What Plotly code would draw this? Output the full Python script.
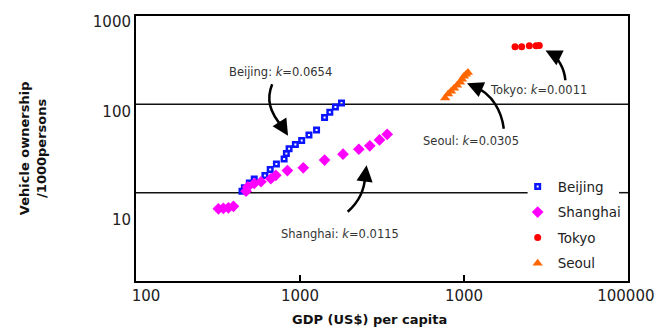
import plotly.graph_objects as go

# Data (GDP per capita in US$, vehicles per 1000 persons)
beijing_gdp = [443, 458, 491, 526, 611, 658, 718, 800, 826, 858, 937, 1024, 1134, 1262, 1412, 1520, 1644, 1791]
beijing_veh = [10.4, 11.4, 12.9, 14.3, 15.6, 18.3, 21.1, 24.0, 27.8, 31.4, 35.1, 38.9, 45.0, 51.2, 70.8, 81.5, 93.3, 103.5]

shanghai_gdp = [318, 341, 366, 393, 469, 480, 526, 578, 664, 712, 838, 1047, 1412, 1830, 2285, 2665, 3053, 3401]
shanghai_veh = [6.56, 6.65, 6.73, 7.0, 10.4, 11.6, 12.7, 13.3, 14.4, 15.7, 17.8, 19.1, 23.4, 27.3, 31.0, 33.9, 39.5, 45.7]

tokyo_gdp = [20470, 22480, 25020, 27500, 28770]
tokyo_veh = [450, 450, 461, 461, 463]

seoul_gdp = [7674, 8000, 8343, 8700, 9070, 9460, 9730, 10000, 10290, 10570]
seoul_veh = [117.8, 130.6, 141, 152, 164.5, 177.8, 192, 207.6, 218.8, 230]

x_tickvals = [115, 1000, 10000, 97000]
x_ticktext = ["100", "1000", "1000", "100000"]
y_tickvals = [4.94, 82, 867]
y_ticktext = ["10", "100", "1000"]

FONT = "DejaVu Sans"
OFF = 8                       # page body margin
W, H = 667 - 2 * OFF, 336 - 2 * OFF
# plot box in page pixels
PX0, PX1, PY0, PY1 = 136, 631, 13, 281
L, T = PX0 - OFF, PY0 - OFF
R, B = W - (PX1 - OFF), H - (PY1 - OFF)


def paper(px, py):
    """page pixel -> paper coords"""
    return (px - PX0) / (PX1 - PX0), (PY1 - py) / (PY1 - PY0)


fig = go.Figure()
fig.add_trace(go.Scatter(x=beijing_gdp, y=beijing_veh, name="Beijing", mode="markers", legendgroup="b",
                         marker=dict(symbol="square-open", size=4.5, color="#0a14ff", line=dict(width=2.5))))
fig.add_trace(go.Scatter(x=shanghai_gdp, y=shanghai_veh, name="Shanghai", mode="markers", legendgroup="s",
                         marker=dict(symbol="diamond", size=9, color="#ff00ff")))
fig.add_trace(go.Scatter(x=tokyo_gdp, y=tokyo_veh, name="Tokyo", mode="markers", legendgroup="t",
                         marker=dict(symbol="circle", size=7, color="#ff0000")))
fig.add_trace(go.Scatter(x=seoul_gdp, y=seoul_veh, name="Seoul", mode="markers", legendgroup="k",
                         marker=dict(symbol="triangle-up", size=9, color="#ff6600")))

# horizontal grid lines at 100 and 10 (the 10 line is broken behind the legend)
grid_segments = [(100, 0, 1), (10, 0, paper(530, 0)[0]), (10, paper(622, 0)[0], 1)]
for v, a, b in grid_segments:
    fig.add_shape(type="line", xref="paper", x0=a, x1=b, yref="y", y0=v, y1=v,
                  line=dict(color="#111", width=1.5), layer="below")

# curved arrows + labels (page pixels)
arrows = [
    # start, c1, c2, end, tip, label text, label pos
    ((273, 82), (267, 97), (270, 110), (284, 126), (289, 134), "Beijing: <i>k</i>=0.0654", (281, 70)),
    ((349, 211), (360, 201), (366, 190), (367, 172), (368, 164), "Shanghai: <i>k</i>=0.0115", (341, 233)),
    ((506, 127), (504, 110), (495, 92), (476, 84), (469, 81), "Seoul: <i>k</i>=0.0305", (473, 139)),
    ((568, 78), (567, 66), (561, 56), (554, 51), (548, 48), "Tokyo: <i>k</i>=0.0011", (541, 88)),
]
annotations = []
for s, c1, c2, e, tip, text, lpos in arrows:
    pts = [paper(*p) for p in (s, c1, c2, e)]
    path = "M {:.4f},{:.4f} C {:.4f},{:.4f} {:.4f},{:.4f} {:.4f},{:.4f}".format(
        *[c for p in pts for c in p])
    fig.add_shape(type="path", xref="paper", yref="paper", path=path,
                  line=dict(color="black", width=2.5))
    tx, ty = paper(*tip)
    annotations.append(dict(x=tx, y=ty, xref="paper", yref="paper", text="", showarrow=True,
                            ax=e[0] - tip[0], ay=e[1] - tip[1], arrowhead=2, arrowsize=1.3,
                            arrowwidth=2.5, arrowcolor="black"))
    lx, ly = paper(*lpos)
    annotations.append(dict(x=lx, y=ly, xref="paper", yref="paper", text=text, showarrow=False,
                            xanchor="center", yanchor="middle",
                            font=dict(family=FONT, size=11.5, color="#333")))

yx, yy = paper(32, 147)
annotations.append(dict(x=yx, y=yy, xref="paper", yref="paper", textangle=-90, showarrow=False,
                        xanchor="center", yanchor="middle",
                        text="<b>Vehicle ownership<br>/1000persons</b>",
                        font=dict(family=FONT, size=13, color="#111")))
gx, gy = paper(371, 320)
annotations.append(dict(x=gx, y=gy, xref="paper", yref="paper", showarrow=False,
                        xanchor="center", yanchor="middle",
                        text="<b>GDP (US$) per capita</b>",
                        font=dict(family=FONT, size=13, color="#111")))

fig.update_layout(
    width=W, height=H,
    margin=dict(l=L, r=R, t=T, b=B),
    paper_bgcolor="white", plot_bgcolor="white",
    showlegend=True,
    legend=dict(x=paper(520, 0)[0], y=paper(0, 170)[1], xanchor="left", yanchor="top",
                bgcolor="rgba(0,0,0,0)", font=dict(family=FONT, size=13.5, color="#222"),
                itemwidth=30, tracegroupgap=5),
    annotations=annotations,
    xaxis=dict(type="log", range=[2, 5], showgrid=False, zeroline=False,
               showline=True, linecolor="black", linewidth=2, mirror=True,
               tickvals=x_tickvals, ticktext=x_ticktext, ticks="", ticklabeloverflow="allow",
               minor=dict(tickvals=[1000, 10000], ticks="inside", ticklen=6,
                          tickcolor="black", tickwidth=1.5, showgrid=False),
               tickfont=dict(family=FONT, size=15, color="#222")),
    yaxis=dict(type="log", range=[0, 3], showgrid=False, zeroline=False,
               showline=True, linecolor="black", linewidth=2, mirror=True,
               tickvals=y_tickvals, ticktext=y_ticktext, ticks="",
               tickfont=dict(family=FONT, size=15, color="#222")),
)

fig.write_html("out.html")
